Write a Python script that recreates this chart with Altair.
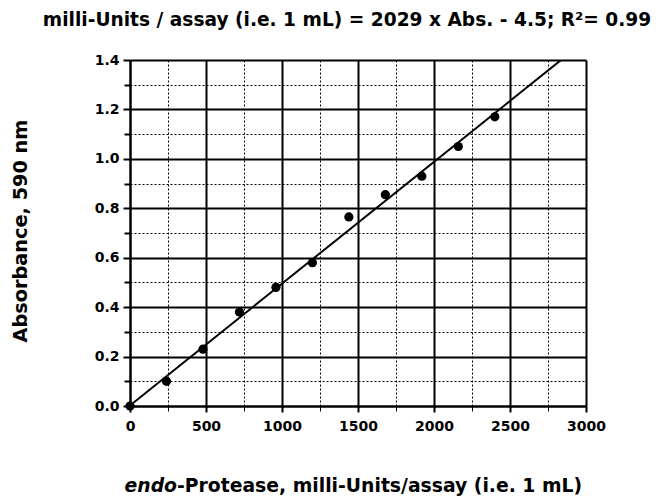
import altair as alt
import pandas as pd

# ---- data ----
conc = [0, 240, 480, 720, 960, 1200, 1440, 1680, 1920, 2160, 2400]
absorb = [0.0, 0.10, 0.23, 0.38, 0.48, 0.58, 0.765, 0.855, 0.93, 1.05, 1.17]

slope = 2029.0      # milli-Units per Abs
intercept = -4.5
fit_x = [0, 3000]

x_major = [0, 500, 1000, 1500, 2000, 2500, 3000]
x_minor = [250, 750, 1250, 1750, 2250, 2750]
y_major = [0.0, 0.2, 0.4, 0.6, 0.8, 1.0, 1.2, 1.4]
y_minor = [0.1, 0.3, 0.5, 0.7, 0.9, 1.1, 1.3]

title_text = ["milli-Units / assay (i.e. 1 mL) = 2029 x Abs. - 4.5; R²= 0.99"]
xtitle_italic = ["endo"]
xtitle_rest = ["-Protease, milli-Units/assay (i.e. 1 mL)"]
ytitle = ["Absorbance, 590 nm"]

FONT = "DejaVu Sans"
W, H = 456, 346

pts = pd.DataFrame({"x": conc, "y": absorb})
fit = pd.DataFrame({"x": fit_x, "y": [(v - intercept) / slope for v in fit_x]})

xs = alt.Scale(domain=[0, 3000], nice=False, zero=False)
ys = alt.Scale(domain=[0, 1.4], nice=False, zero=False)

minor = alt.Chart(pts).mark_point(opacity=0).encode(
    x=alt.X("x:Q", scale=xs, axis=alt.Axis(
        values=x_minor, orient="bottom", labels=False, domain=False, title=None,
        grid=True, gridColor="black", gridDash=[2, 2], gridWidth=1, gridOpacity=1,
        ticks=True, tickSize=5, tickColor="black", tickWidth=1)),
    y=alt.Y("y:Q", scale=ys, axis=alt.Axis(
        values=y_minor, orient="left", labels=False, domain=False, title=None,
        grid=True, gridColor="black", gridDash=[2, 2], gridWidth=1, gridOpacity=1,
        ticks=True, tickSize=6, tickColor="black", tickWidth=2)),
)

line = alt.Chart(fit).mark_line(color="black", strokeWidth=2, clip=True).encode(
    x=alt.X("x:Q", scale=xs, axis=alt.Axis(
        values=x_major, orient="bottom", format="d", title=None,
        grid=True, gridColor="black", gridWidth=2, gridOpacity=1,
        domain=True, domainColor="black", domainWidth=2,
        tickSize=6, tickColor="black", tickWidth=2, labelFlush=False,
        labelFont=FONT, labelFontWeight="bold", labelFontSize=14,
        labelColor="black", labelPadding=7)),
    y=alt.Y("y:Q", scale=ys, axis=alt.Axis(
        values=y_major, orient="left", format=".1f", title=None,
        grid=True, gridColor="black", gridWidth=2, gridOpacity=1,
        domain=True, domainColor="black", domainWidth=2,
        tickSize=7, tickColor="black", tickWidth=2, labelFlush=False,
        labelFont=FONT, labelFontWeight="bold", labelFontSize=14,
        labelColor="black", labelPadding=4)),
)

points = alt.Chart(pts).mark_circle(color="black", opacity=1, size=85).encode(
    x=alt.X("x:Q", scale=xs, axis=None),
    y=alt.Y("y:Q", scale=ys, axis=None),
)

title = alt.Chart(pd.DataFrame({"t": title_text})).mark_text(
    font=FONT, fontWeight="bold", fontSize=18.6, color="black",
    align="center", baseline="alphabetic"
).encode(x=alt.value(217), y=alt.value(-34), text="t:N")

xt1 = alt.Chart(pd.DataFrame({"t": xtitle_italic})).mark_text(
    font=FONT, fontWeight="bold", fontStyle="italic", fontSize=18.8, color="black",
    align="right", baseline="alphabetic"
).encode(x=alt.value(47), y=alt.value(432), text="t:N")

xt2 = alt.Chart(pd.DataFrame({"t": xtitle_rest})).mark_text(
    font=FONT, fontWeight="bold", fontSize=18.8, color="black",
    align="left", baseline="alphabetic"
).encode(x=alt.value(47), y=alt.value(432), text="t:N")

yt = alt.Chart(pd.DataFrame({"t": ytitle})).mark_text(
    font=FONT, fontWeight="bold", fontSize=19.3, color="black",
    align="center", baseline="alphabetic", angle=270
).encode(x=alt.value(-103), y=alt.value(171), text="t:N")

chart = alt.layer(minor, line, points, title, xt1, xt2, yt).resolve_axis(
    x="independent", y="independent"
).properties(
    width=W, height=H,
    autosize=alt.AutoSizeParams(type="none"),
    padding={"left": 122, "top": 52, "right": 71, "bottom": 90},
).configure_view(stroke=None)

chart.save("out.html", embed_options={"renderer": "svg", "actions": False})
